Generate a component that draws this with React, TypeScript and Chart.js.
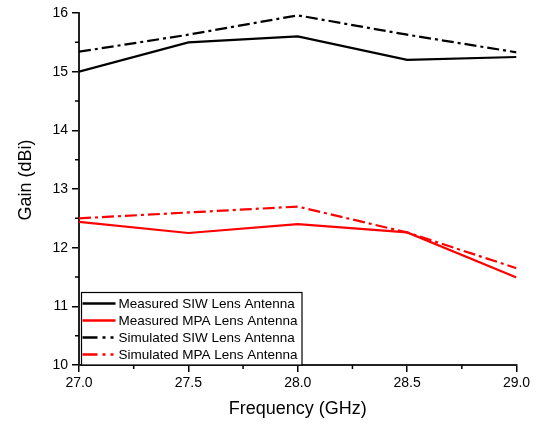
import React, { useEffect, useRef } from "react";
import { Chart, registerables } from "chart.js";

Chart.register(...registerables);

const frequencies = [27.0, 27.5, 28.0, 28.5, 29.0];
const measuredSIW = [15.0, 15.5, 15.6, 15.2, 15.25];
const measuredMPA = [12.44, 12.25, 12.4, 12.26, 11.49];
const simulatedSIW = [15.34, 15.63, 15.96, 15.63, 15.33];
const simulatedMPA = [12.5, 12.6, 12.7, 12.26, 11.65];
const seriesLabels = [
  "Measured SIW Lens Antenna",
  "Measured MPA Lens Antenna",
  "Simulated SIW Lens Antenna",
  "Simulated MPA Lens Antenna",
];
const xTitle = "Frequency (GHz)";
const yTitle = "Gain (dBi)";
const xMinorTicks = [27.25, 27.75, 28.25, 28.75];
const yMinorTicks = [10.5, 11.5, 12.5, 13.5, 14.5, 15.5];

const FONT = "'Liberation Sans', Arial, sans-serif";
const DASH_DOT = [12, 4, 3, 4];
const LEGEND_DASH = [15, 5, 3, 5, 3, 5];

const toPoints = (ys: number[]) => frequencies.map((x, i) => ({ x, y: ys[i] }));

const minorTickPlugin = {
  id: "minorTicks",
  afterDraw(chart: any) {
    const { ctx, chartArea, scales } = chart;
    ctx.save();
    ctx.strokeStyle = "#000";
    ctx.lineWidth = 1.5;
    ctx.setLineDash([]);
    ctx.beginPath();
    for (const v of yMinorTicks) {
      const y = scales.y.getPixelForValue(v);
      ctx.moveTo(chartArea.left - 4, y);
      ctx.lineTo(chartArea.left, y);
    }
    for (const v of xMinorTicks) {
      const x = scales.x.getPixelForValue(v);
      ctx.moveTo(x, chartArea.bottom);
      ctx.lineTo(x, chartArea.bottom + 4);
    }
    ctx.stroke();
    ctx.restore();
  },
};

const yTitlePlugin = {
  id: "yTitle",
  afterDraw(chart: any) {
    const { ctx, chartArea } = chart;
    ctx.save();
    ctx.translate(26, (chartArea.top + chartArea.bottom) / 2 - 9);
    ctx.rotate(-Math.PI / 2);
    ctx.fillStyle = "#000";
    ctx.font = `18px ${FONT}`;
    ctx.textAlign = "center";
    ctx.textBaseline = "middle";
    ctx.fillText(yTitle, 0, 0);
    ctx.restore();
  },
};

const boxLegendPlugin = {
  id: "boxLegend",
  afterDraw(chart: any) {
    const { ctx, chartArea } = chart;
    const left = chartArea.left + 2.5;
    const right = chartArea.left + 223;
    const top = chartArea.bottom - 72.5;
    const bottom = chartArea.bottom;
    ctx.save();
    ctx.fillStyle = "#fff";
    ctx.fillRect(left, top, right - left, bottom - top);
    ctx.strokeStyle = "#000";
    ctx.lineWidth = 1.2;
    ctx.setLineDash([]);
    ctx.strokeRect(left, top, right - left, bottom - top);
    chart.data.datasets.forEach((ds: any, i: number) => {
      const y = top + 11 + i * 17;
      ctx.beginPath();
      ctx.setLineDash(ds.borderDash && ds.borderDash.length ? LEGEND_DASH : []);
      ctx.strokeStyle = ds.borderColor;
      ctx.lineWidth = 2.5;
      ctx.moveTo(left + 1, y);
      ctx.lineTo(left + 34, y);
      ctx.stroke();
      ctx.setLineDash([]);
      ctx.fillStyle = "#000";
      ctx.font = `13.5px ${FONT}`;
      ctx.textBaseline = "middle";
      ctx.textAlign = "left";
      ctx.fillText(ds.label, left + 37, y + 0.5);
    });
    ctx.restore();
  },
};

export default function App() {
  const canvasRef = useRef<HTMLCanvasElement | null>(null);

  useEffect(() => {
    if (!canvasRef.current) return;
    Chart.defaults.font.family = FONT;
    Chart.defaults.color = "#000";
    const chart = new Chart(canvasRef.current, {
      type: "line",
      data: {
        datasets: [
          {
            label: seriesLabels[0],
            data: toPoints(measuredSIW),
            borderColor: "#000000",
            borderWidth: 2.2,
            pointRadius: 0,
            borderDash: [],
          },
          {
            label: seriesLabels[1],
            data: toPoints(measuredMPA),
            borderColor: "#ff0000",
            borderWidth: 2.2,
            pointRadius: 0,
            borderDash: [],
          },
          {
            label: seriesLabels[2],
            data: toPoints(simulatedSIW),
            borderColor: "#000000",
            borderWidth: 2.2,
            pointRadius: 0,
            borderDash: DASH_DOT,
          },
          {
            label: seriesLabels[3],
            data: toPoints(simulatedMPA),
            borderColor: "#ff0000",
            borderWidth: 2.2,
            pointRadius: 0,
            borderDash: DASH_DOT,
          },
        ],
      },
      options: {
        responsive: false,
        animation: false,
        layout: { padding: { left: 0, right: 21.5, top: 13, bottom: 0 } },
        plugins: {
          legend: { display: false },
          tooltip: { enabled: false },
        },
        scales: {
          x: {
            type: "linear",
            min: 27,
            max: 29,
            afterFit: (scale: any) => {
              scale.height = 59;
            },
            ticks: {
              stepSize: 0.5,
              padding: 3,
              font: { size: 14 },
              color: "#000",
              callback: (v: any) => Number(v).toFixed(1),
            },
            grid: {
              drawOnChartArea: false,
              drawTicks: true,
              tickLength: 7,
              color: "#000",
              lineWidth: 1.5,
            },
            border: { display: true, color: "#222", width: 2 },
            title: {
              display: true,
              text: xTitle,
              font: { size: 18 },
              color: "#000",
              padding: { top: 0, bottom: 4 },
            },
          },
          y: {
            type: "linear",
            min: 10,
            max: 16,
            afterFit: (scale: any) => {
              scale.width = 79;
            },
            ticks: {
              stepSize: 1,
              padding: 4,
              font: { size: 14 },
              color: "#000",
            },
            grid: {
              drawOnChartArea: false,
              drawTicks: true,
              tickLength: 7,
              color: "#000",
              lineWidth: 1.5,
            },
            border: { display: true, color: "#222", width: 2 },
            title: { display: false },
          },
        },
      },
      plugins: [minorTickPlugin, boxLegendPlugin, yTitlePlugin],
    } as any);
    return () => chart.destroy();
  }, []);

  return (
    <div style={{ position: "fixed", left: 0, top: 0, width: 538, height: 424, background: "#fff" }}>
      <canvas ref={canvasRef} width={538} height={424} style={{ display: "block", width: 538, height: 424 }} />
    </div>
  );
}
